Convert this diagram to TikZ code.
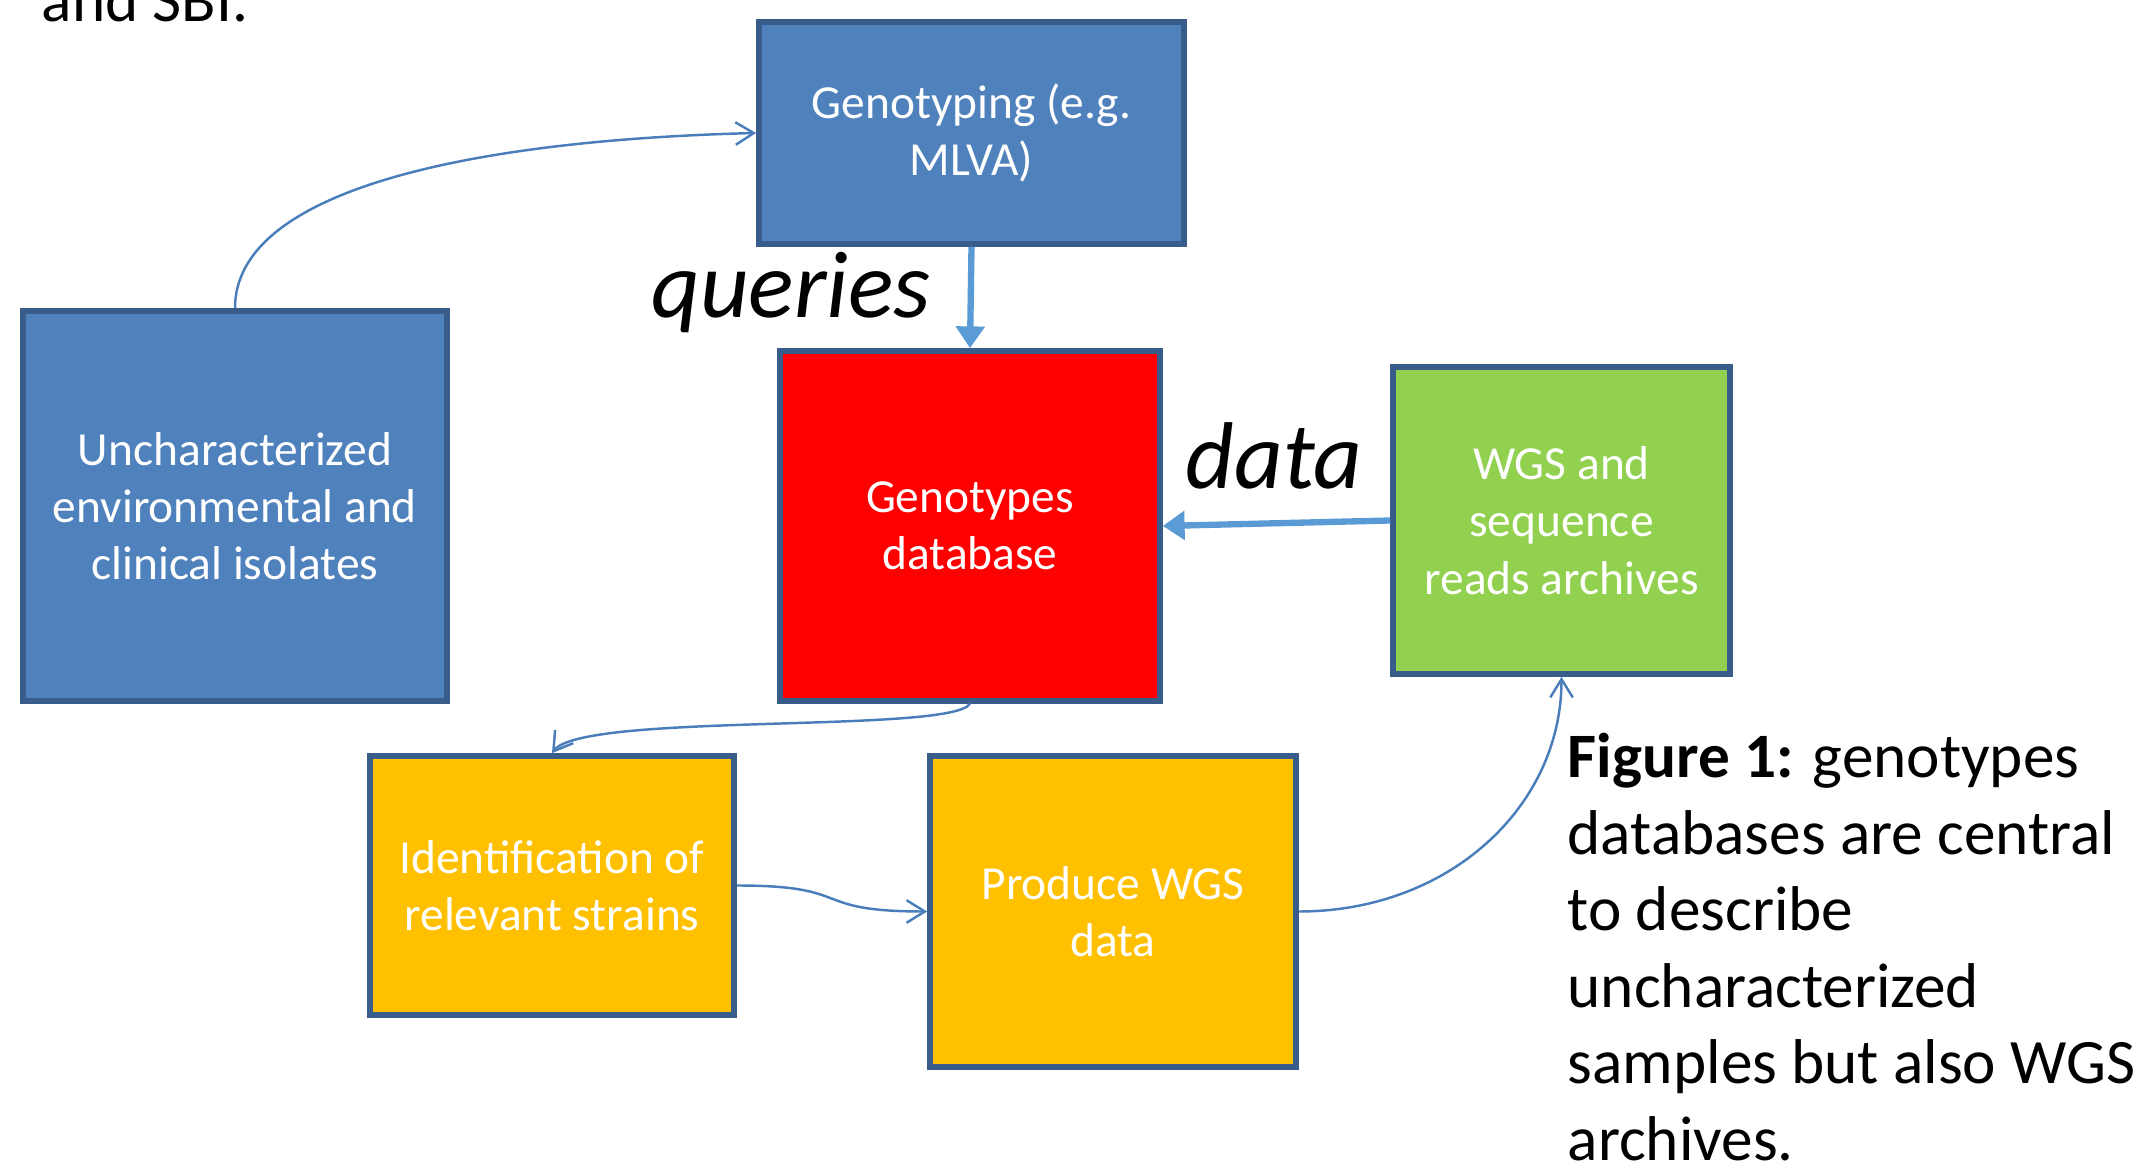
\documentclass[tikz,border=0pt]{standalone}
\usepackage{fontspec}
\setmainfont{Carlito}
\usetikzlibrary{arrows.meta}
\definecolor{fblue}{HTML}{4F81BD}
\definecolor{fedge}{HTML}{385D8A}
\definecolor{flink}{HTML}{4A7EBB}
\definecolor{fthick}{HTML}{5B9BD5}
\definecolor{fred}{HTML}{FF0000}
\definecolor{fgreen}{HTML}{92D050}
\definecolor{forange}{HTML}{FFC000}

\begin{document}
\begin{tikzpicture}[x=1cm, y=1cm,
  box/.style={draw=fedge, line width=1.6pt, text=white, align=center, inner sep=0pt,
    font=\fontsize{13.5}{16.3}\selectfont},
  thinlink/.style={draw=flink, line width=0.7pt, -{Straight Barb[length=5.2pt,width=6.4pt]}},
  thicklink/.style={draw=fthick, line width=1.8pt, -{Triangle[length=6.2pt,width=8pt]}},
  bigword/.style={font=\fontsize{27}{32}\selectfont\itshape, inner sep=0pt, anchor=base}]
\useasboundingbox (0,0) rectangle (21.48,-11.73);
% ================= text cut at the top =================
\node[anchor=base west, inner sep=0pt, font=\fontsize{18}{21.7}\selectfont] (sbi) at (0.41,-0.22) {and SBI.};
% ================= boxes =================
\node[box, fill=fblue, minimum width=4.25cm, minimum height=2.22cm] (geno) at (9.715,-1.33)
   {Genotyping (e.g.\\MLVA)};
\node[box, fill=fblue, minimum width=4.24cm, minimum height=3.90cm] (uncha) at (2.35,-5.06)
   {Uncharacterized\\environmental and\\clinical isolates};
\node[box, fill=fred, minimum width=3.80cm, minimum height=3.50cm] (gdb) at (9.70,-5.26)
   {Genotypes\\database};
\node[box, fill=fgreen, minimum width=3.37cm, minimum height=3.07cm] (wgs) at (15.615,-5.205)
   {WGS and\\sequence\\reads archives};
\node[box, fill=forange, minimum width=3.64cm, minimum height=2.59cm] (ident) at (5.52,-8.855)
   {Identification of\\relevant strains};
\node[box, fill=forange, minimum width=3.66cm, minimum height=3.11cm] (prod) at (11.13,-9.115)
   {Produce WGS\\data};
% ================= labels =================
\node[bigword] (queries) at (7.91,-3.18) {queries};
\node[bigword] (data) at (12.74,-4.89) {data};
% caption: base is the last line
\node[anchor=base west, inner sep=0pt, align=left, font=\fontsize{18}{21.74}\selectfont] (caption)
   at (15.67,-11.60)
   {\textbf{Figure 1:} genotypes\\databases are central\\to describe\\uncharacterized\\samples but also WGS\\archives.};
% ================= connectors =================
\draw[thinlink] (uncha.north) .. controls +(0,1.2) and +(-2.8,-0.07) .. (geno.west);
\draw[thicklink] (geno.south) -- (gdb.north);
\draw[thicklink] (wgs.west) -- (gdb.east);
\draw[thinlink] (gdb.south) .. controls +(-0.2,-0.3) and +(0.3,0.41) .. (ident.north);
\draw[thinlink] (ident.east) .. controls +(1.2,0) and +(-1.2,0) .. (prod.west);
\draw[thinlink] (prod.east) .. controls +(1.5,0) and +(0,-1.3) .. (wgs.south);
\end{tikzpicture}
\end{document}
